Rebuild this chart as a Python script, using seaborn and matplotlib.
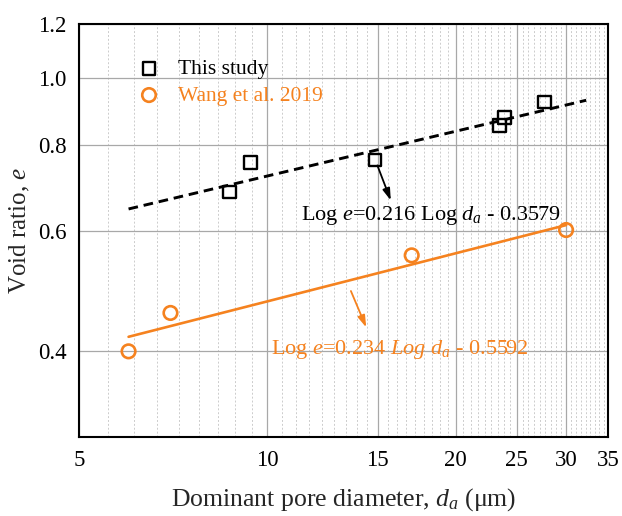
import numpy as np
import pandas as pd
import matplotlib
matplotlib.use("Agg")
import matplotlib.pyplot as plt
from matplotlib.ticker import FixedLocator, FixedFormatter, NullFormatter, NullLocator
import seaborn as sns

# ---- data ----
study_d = [8.7, 9.4, 14.85, 23.5, 23.9, 27.7]
study_e = [0.683, 0.754, 0.760, 0.853, 0.877, 0.923]
wang_d = [6.0, 7.0, 17.0, 30.0]
wang_e = [0.400, 0.455, 0.552, 0.601]
fit_study_d = [6.0, 32.3]
fit_study_e = [0.645, 0.929]
fit_wang_d = [6.0, 30.0]
fit_wang_e = [0.420, 0.611]
x_ticks = [5, 10, 15, 20, 25, 30, 35]
y_ticks = [0.4, 0.6, 0.8, 1.0, 1.2]
series_names = ["This study", "Wang et al. 2019"]
eq_study = r"Log $e$=0.216 Log $d_a$ - 0.3579"
eq_wang = r"Log $e$=0.234 $Log\ d_a$ - 0.5592"

ORANGE = "#F5821F"

sns.set_style("white")
plt.rcParams["font.family"] = ["Liberation Serif", "DejaVu Serif"]
plt.rcParams["mathtext.fontset"] = "custom"
plt.rcParams["mathtext.rm"] = "Liberation Serif"
plt.rcParams["mathtext.it"] = "Liberation Serif:italic"

fig = plt.figure(figsize=(6.22, 5.16), dpi=100)
ax = fig.add_axes([0.127, 0.153, 0.8505, 0.8005])
ax.set_xscale("log")
ax.set_yscale("log")
ax.set_xlim(5, 35)
ax.set_ylim(0.3, 1.2)

# grids
minor = []
for a, b in zip(x_ticks[:-1], x_ticks[1:]):
    minor += [a + k * (b - a) / 9 for k in range(1, 9)]
ax.xaxis.set_major_locator(FixedLocator(x_ticks))
ax.xaxis.set_major_formatter(FixedFormatter([str(t) for t in x_ticks]))
ax.xaxis.set_minor_locator(FixedLocator(minor))
ax.xaxis.set_minor_formatter(NullFormatter())
ax.yaxis.set_major_locator(FixedLocator(y_ticks))
ax.yaxis.set_major_formatter(FixedFormatter([f"{t:.1f}" for t in y_ticks]))
ax.yaxis.set_minor_locator(NullLocator())

ax.grid(True, which="major", color="#a8a8a8", lw=0.9, ls="-", zorder=0)
ax.grid(True, which="minor", axis="x", color="#cccccc", lw=0.7, ls=(0, (2.0, 2.0)), zorder=0)
ax.set_axisbelow(True)

# fit lines
sns.lineplot(x=fit_study_d, y=fit_study_e, ax=ax, color="black", lw=2.1,
             dashes=False, linestyle=(0, (3.3, 2.0)), legend=False)
sns.lineplot(x=fit_wang_d, y=fit_wang_e, ax=ax, color=ORANGE, lw=1.9, legend=False)

# points
sns.scatterplot(x=study_d, y=study_e, ax=ax, marker="s", s=80, facecolor="none",
                edgecolor="black", linewidth=1.7, label=series_names[0], zorder=5)
sns.scatterplot(x=wang_d, y=wang_e, ax=ax, marker="o", s=95, facecolor="none",
                edgecolor=ORANGE, linewidth=1.9, label=series_names[1], zorder=5)

# annotations
ax.annotate("", xy=(15.8, 0.658), xytext=(14.93, 0.753),
            arrowprops=dict(arrowstyle="-|>,head_length=0.7,head_width=0.22",
                            color="black", lw=1.3))
ax.text(11.32, 0.632, eq_study, fontsize=16, color="black", ha="left", va="center")
ax.annotate("", xy=(14.44, 0.4297), xytext=(13.54, 0.494),
            arrowprops=dict(arrowstyle="-|>,head_length=0.7,head_width=0.22",
                            color=ORANGE, lw=1.3))
ax.text(10.15, 0.4018, eq_wang, fontsize=16, color=ORANGE, ha="left", va="center")

# legend
leg = ax.legend(loc="upper left", bbox_to_anchor=(0.112, 0.915), frameon=False,
                fontsize=15.5, handlelength=1.0, handletextpad=0.85,
                labelspacing=0.3, borderpad=0, borderaxespad=0)
for txt, col in zip(leg.get_texts(), ["black", ORANGE]):
    txt.set_color(col)

# axes style
for s in ax.spines.values():
    s.set_visible(True)
    s.set_color("black")
    s.set_linewidth(1.5)
ax.tick_params(axis="both", which="major", direction="in", length=6, width=1.5,
               labelsize=16.5, colors="black", pad=9)
ax.tick_params(axis="x", which="minor", length=0)
ax.set_xlabel(r"Dominant pore diameter, $d_a$ ($\mathrm{\mu}$m)", fontsize=18.5, labelpad=11)
ax.set_ylabel(r"Void ratio, $e$", fontsize=18, labelpad=4)

fig.savefig("out.png", dpi=100)
